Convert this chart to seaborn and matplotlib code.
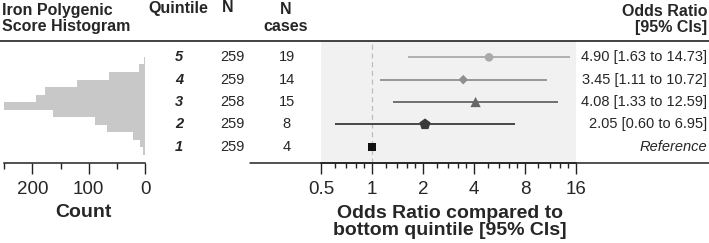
import numpy as np
import pandas as pd
import matplotlib
matplotlib.use('Agg')
import matplotlib.pyplot as plt
import matplotlib.transforms as mtransforms
from matplotlib.lines import Line2D
from matplotlib.ticker import NullFormatter
import seaborn as sns

# ---- data ----
quintiles = [5, 4, 3, 2, 1]
n_total = [259, 259, 258, 259, 259]
n_cases = [19, 14, 15, 8, 4]
odds_ratio = [4.90, 3.45, 4.08, 2.05, 1.0]
ci_low = [1.63, 1.11, 1.33, 0.60, np.nan]
ci_high = [14.73, 10.72, 12.59, 6.95, np.nan]
or_labels = ['4.90 [1.63 to 14.73]', '3.45 [1.11 to 10.72]',
             '4.08 [1.33 to 12.59]', '2.05 [0.60 to 6.95]', 'Reference']
# histogram of the polygenic score, bins from bottom to top
hist_counts = [4, 9, 21, 67, 89, 163, 251, 194, 177, 121, 64, 11, 3, 1]

or_ticks = [0.5, 1, 2, 4, 8, 16]
count_ticks = [0, 100, 200]

# styling per quintile
q_markers = {5: 'o', 4: 'D', 3: '^', 2: 'p', 1: 's'}
q_colors = {5: '#aaaaaa', 4: '#8f8f8f', 3: '#666666', 2: '#3a3a3a', 1: '#111111'}
q_sizes = {5: 38, 4: 24, 3: 55, 2: 72, 1: 34}

sns.set_style('ticks')
plt.rcParams['font.family'] = ['Liberation Sans', 'DejaVu Sans']

W, H = 709, 243
fig = plt.figure(figsize=(W / 100, H / 100), dpi=100)


def fx(px):
    return px / W


def fy(py):
    return 1 - py / H


AX_TOP, AX_BOT = 41.5, 162.5
LINE_C = '#222222'

# ---- forest plot ----
fax = fig.add_axes([fx(321.3), fy(AX_BOT), fx(576) - fx(321.3), (AX_BOT - AX_TOP) / H])
fax.set_facecolor('#f1f1f1')
df = pd.DataFrame({'quintile': quintiles, 'OR': odds_ratio,
                   'lo': ci_low, 'hi': ci_high})
fax.axvline(1, color='#bdbdbd', lw=0.9, ls=(0, (4, 3)), zorder=1)
for _, r in df.dropna().iterrows():
    fax.hlines(r['quintile'], r['lo'], r['hi'], color=q_colors[int(r['quintile'])],
               lw=1.3, zorder=2)
sns.scatterplot(data=df, x='OR', y='quintile', hue='quintile', style='quintile',
                size='quintile', markers=q_markers, palette=q_colors, sizes=q_sizes,
                linewidth=0, legend=False, ax=fax, zorder=3)
fax.set_xscale('log', base=2)
fax.set_xlim(0.5, 16)
fax.set_ylim(0.29, 5.71)
fax.set_xticks(or_ticks)
fax.set_xticklabels([('%g' % t) for t in or_ticks])
fax.set_xticks([m * f for m in or_ticks[:-1] for f in (1.2, 1.4, 1.6, 1.8)], minor=True)
fax.xaxis.set_minor_formatter(NullFormatter())
fax.set_yticks([])
fax.set_xlabel('')
fax.set_ylabel('')
for s in ['top', 'left', 'right']:
    fax.spines[s].set_visible(False)
fax.spines['bottom'].set_color(LINE_C)
fax.spines['bottom'].set_linewidth(1.1)
fax.tick_params(axis='x', which='major', length=8, width=1, color=LINE_C,
                labelsize=13.5, pad=5, direction='out')
fax.tick_params(axis='x', which='minor', length=3.6, width=1, color=LINE_C,
                direction='out')

# ---- histogram ----
hax = fig.add_axes([fx(4), fy(AX_BOT), fx(145.3) - fx(4), (AX_BOT - AX_TOP) / H])
hist_df = pd.DataFrame({'score_bin': np.arange(len(hist_counts)) + 0.5,
                        'count': hist_counts})
sns.histplot(data=hist_df, y='score_bin', weights='count',
             bins=len(hist_counts), binrange=(0, len(hist_counts)),
             color='#c8c8c8', alpha=1, linewidth=0, ax=hax)
hax.set_xlim(250, 0)
hax.set_ylim(-0.99, 15.04)
hax.set_xticks(count_ticks)
hax.set_xticks([50, 150, 250], minor=True)
hax.set_yticks([])
hax.set_xlabel('')
hax.set_ylabel('')
hax.set_facecolor('none')
for s in ['top', 'left', 'right']:
    hax.spines[s].set_visible(False)
hax.spines['bottom'].set_color(LINE_C)
hax.spines['bottom'].set_linewidth(1.1)
hax.tick_params(axis='x', which='major', length=8, width=1, color=LINE_C,
                labelsize=13.5, pad=5)
hax.tick_params(axis='x', which='minor', length=4.3, width=1, color=LINE_C)

# ---- rule lines ----
fig.add_artist(Line2D([0, 1], [fy(AX_TOP), fy(AX_TOP)], color=LINE_C, lw=1.2))
fig.add_artist(Line2D([fx(250), 1], [fy(AX_BOT), fy(AX_BOT)], color=LINE_C, lw=1.1))

# ---- headers ----
hdr = dict(fontsize=11.5, fontweight='bold', va='center')
fig.text(fx(2), fy(18.5), 'Iron Polygenic\nScore Histogram', ha='left',
         linespacing=1.15, **hdr)
fig.text(fx(178), fy(8), 'Quintile', ha='center', **hdr)
fig.text(fx(228), fy(8), 'N', ha='center', **hdr)
fig.text(fx(286), fy(18), 'N\ncases', ha='center', linespacing=1.15, **hdr)
fig.text(fx(707), fy(19.5), 'Odds Ratio\n[95% CIs]', ha='right',
         multialignment='right', linespacing=1.15, **hdr)

# ---- row values ----
row_tr = mtransforms.blended_transform_factory(fig.transFigure, fax.transData)
for q, n, c, lab in zip(quintiles, n_total, n_cases, or_labels):
    fig.text(fx(179), q, str(q), transform=row_tr, ha='center', va='center',
             fontsize=10.5, fontweight='bold', fontstyle='italic')
    fig.text(fx(232), q, str(n), transform=row_tr, ha='center', va='center',
             fontsize=10.5)
    fig.text(fx(286.5), q, str(c), transform=row_tr, ha='center', va='center',
             fontsize=10.5)
    fig.text(fx(707), q, lab, transform=row_tr, ha='right', va='center',
             fontsize=10.5, fontstyle='italic' if lab == 'Reference' else 'normal')

# ---- axis titles ----
fig.text(fx(83), fy(212), 'Count', ha='center', va='center',
         fontsize=14, fontweight='bold')
fig.text(fx(450), fy(221.5), 'Odds Ratio compared to\nbottom quintile [95% CIs]',
         ha='center', va='center', fontsize=14, fontweight='bold', linespacing=1.0)

fig.savefig('out.png', dpi=100)
